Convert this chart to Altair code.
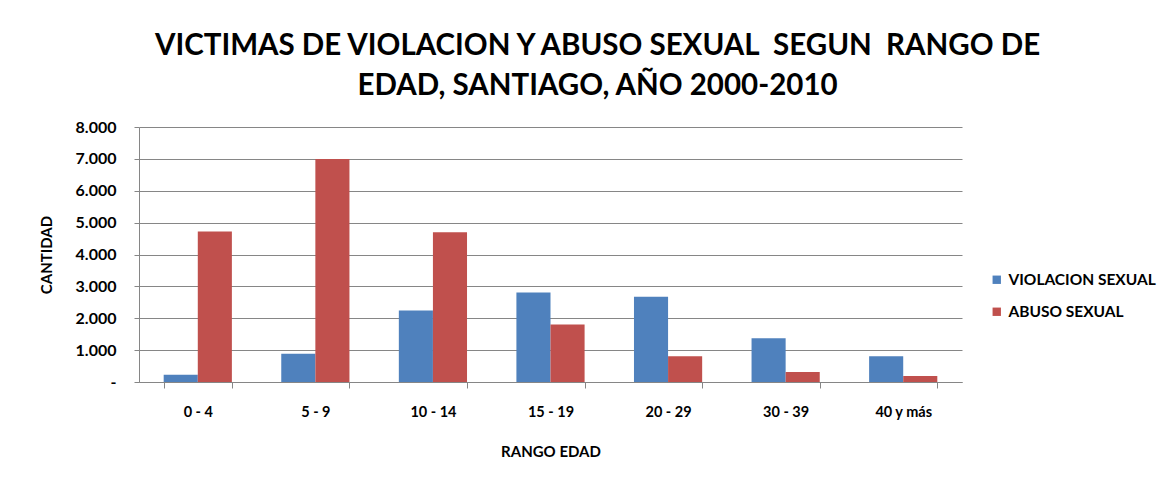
import altair as alt
import pandas as pd

categories = ["0 - 4", "5 - 9", "10 - 14", "15 - 19", "20 - 29", "30 - 39", "40 y más"]
violacion = [230, 890, 2245, 2810, 2675, 1370, 805]
abuso = [4725, 7000, 4695, 1805, 805, 315, 190]
series = ["VIOLACION SEXUAL", "ABUSO SEXUAL"]
colors = ["#4F81BD", "#C0504D"]
y_ticks = [0, 1000, 2000, 3000, 4000, 5000, 6000, 7000, 8000]

rows = []
for c, v, a in zip(categories, violacion, abuso):
    rows.append({"rango": c, "serie": series[0], "valor": v})
    rows.append({"rango": c, "serie": series[1], "valor": a})
df = pd.DataFrame(rows)

FONT = "Lato"

chart = (
    alt.Chart(df)
    .mark_bar()
    .encode(
        x=alt.X(
            "rango:N",
            sort=categories,
            title="RANGO EDAD",
            scale=alt.Scale(paddingInner=0.42, paddingOuter=0.21),
            axis=alt.Axis(
                labelAngle=0,
                labelFontWeight="bold",
                labelFontSize=14.5,
                labelColor="#000000",
                labelPadding=17,
                tickBand="extent",
                tickSize=6,
                tickColor="#868686",
                domainColor="#868686",
                titleFontWeight="bold",
                titleFontSize=15,
                titlePadding=26,
                grid=False,
            ),
        ),
        xOffset=alt.XOffset("serie:N", sort=series, scale=alt.Scale(paddingInner=0, paddingOuter=0)),
        y=alt.Y(
            "valor:Q",
            title="CANTIDAD",
            scale=alt.Scale(domain=[0, 8000], nice=False),
            axis=alt.Axis(
                values=y_ticks,
                labelExpr="datum.value == 0 ? '-' : replace(format(datum.value, ','), ',', '.')",
                labelFontWeight="bold",
                labelFontSize=16,
                labelColor="#000000",
                labelPadding=18,
                tickSize=5,
                tickColor="#868686",
                domainColor="#868686",
                gridColor="#868686",
                gridWidth=1,
                titleFontWeight="bold",
                titleFontSize=15,
                titlePadding=21,
            ),
        ),
        color=alt.Color(
            "serie:N",
            sort=series,
            scale=alt.Scale(domain=series, range=colors),
            legend=alt.Legend(
                title=None,
                orient="none",
                legendX=850,
                legendY=145,
                symbolType="square",
                symbolSize=70,
                symbolStrokeWidth=0,
                labelFontWeight="bold",
                labelFontSize=15.5,
                labelColor="#000000",
                rowPadding=15,
            ),
        ),
    )
    .properties(
        width=823,
        height=255,
        padding={"left": 31, "top": 22, "right": 5, "bottom": 5},
        title=alt.TitleParams(
            text=["VICTIMAS DE VIOLACION Y ABUSO SEXUAL \u00a0SEGUN \u00a0RANGO DE", "EDAD, SANTIAGO, AÑO 2000-2010"],
            fontSize=29.5,
            fontWeight="bold",
            font=FONT,
            color="#000000",
            anchor="middle",
            frame="bounds",
            lineHeight=40,
            offset=18,
        ),
    )
    .configure(font=FONT)
    .configure_view(stroke=None)
)

chart.save("out.html", embed_options={"renderer": "svg", "actions": False})
